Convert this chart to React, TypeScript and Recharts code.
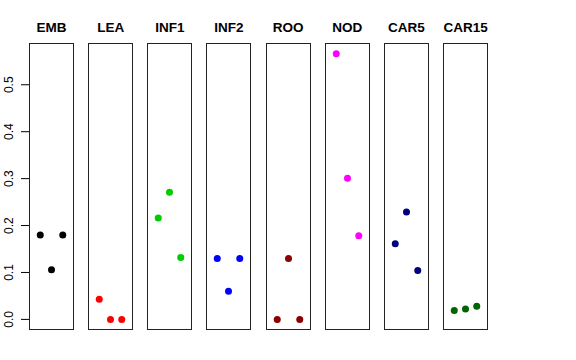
import { ScatterChart, Scatter, XAxis, YAxis } from "recharts";

const groups = ["EMB", "LEA", "INF1", "INF2", "ROO", "NOD", "CAR5", "CAR15"];
const colors = ["#000000", "#FF0000", "#00CD00", "#0000FF", "#8B0000", "#FF00FF", "#000080", "#006400"];
const replicates = [1, 2, 3];

const emb = [0.18, 0.106, 0.18];
const lea = [0.043, 0.0, 0.0];
const inf1 = [0.216, 0.271, 0.132];
const inf2 = [0.13, 0.06, 0.13];
const roo = [0.0, 0.13, 0.0];
const nod = [0.566, 0.301, 0.178];
const car5 = [0.161, 0.229, 0.104];
const car15 = [0.019, 0.022, 0.028];

const values = [emb, lea, inf1, inf2, roo, nod, car5, car15];
const yTicks = [0, 0.1, 0.2, 0.3, 0.4, 0.5];
const yDomain = [-0.0226, 0.589];

const font = "'Liberation Sans', Arial, sans-serif";
const PANEL_TOP = 43;
const PANEL_H = 287;
const PANEL_W = 45;
const AXIS_W = 29;

function panelLeft(i: number) {
  return 29 + i * 59.15;
}

function YTick({ y, payload }: any) {
  return (
    <text
      x={13}
      y={y}
      transform={`rotate(-90 13 ${y})`}
      textAnchor="middle"
      fontSize={12}
      fontFamily={font}
      fill="#000"
    >
      {Number(payload.value).toFixed(1)}
    </text>
  );
}

function Panel({ index }: { index: number }) {
  const first = index === 0;
  const data = replicates.map((r, k) => ({ x: r, y: values[index][k] }));
  const color = colors[index];
  const left = panelLeft(index);
  return (
    <>
      <div
        style={{
          position: "absolute",
          left: left - 20,
          width: PANEL_W + 40,
          top: 20,
          textAlign: "center",
          fontFamily: font,
          fontWeight: "bold",
          fontSize: 13.5,
        }}
      >
        {groups[index]}
      </div>
      <div
        style={{
          position: "absolute",
          left,
          top: PANEL_TOP,
          width: PANEL_W,
          height: PANEL_H,
          border: "1px solid #222",
          boxSizing: "border-box",
        }}
      />
      <div style={{ position: "absolute", left: first ? 0 : left, top: PANEL_TOP }}>
        <ScatterChart
          width={first ? AXIS_W + PANEL_W : PANEL_W}
          height={PANEL_H}
          margin={{ top: 0, right: 0, bottom: 0, left: 0 }}
        >
          <XAxis type="number" dataKey="x" domain={[0, 4]} hide />
          <YAxis
            type="number"
            dataKey="y"
            domain={yDomain}
            allowDataOverflow
            ticks={yTicks}
            hide={!first}
            width={AXIS_W}
            axisLine={false}
            tickLine={{ stroke: "#000" }}
            tickSize={8}
            tick={<YTick />}
            interval={0}
          />
          <Scatter
            data={data}
            isAnimationActive={false}
            shape={(p: any) => <circle cx={p.cx} cy={p.cy} r={3.5} fill={color} />}
          />
        </ScatterChart>
      </div>
    </>
  );
}

export default function App() {
  return (
    <div style={{ position: "absolute", left: 0, top: 0, width: 576, height: 360, background: "#fff" }}>
      {groups.map((g, i) => (
        <Panel key={g} index={i} />
      ))}
    </div>
  );
}
